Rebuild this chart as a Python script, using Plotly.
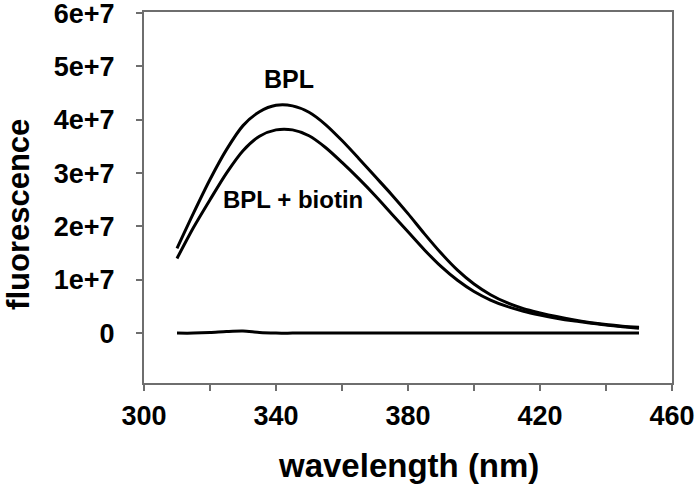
import plotly.graph_objects as go

wavelength = [310, 315, 320, 325, 330, 335, 340, 345, 350, 355, 360, 365, 370, 375, 380,
              385, 390, 395, 400, 405, 410, 415, 420, 425, 430, 435, 440, 445, 450]
bpl = [1.59, 2.25, 2.88, 3.44, 3.89, 4.15, 4.27, 4.26, 4.14, 3.91, 3.61, 3.28, 2.94, 2.60, 2.24,
       1.86, 1.50, 1.18, 0.92, 0.72, 0.57, 0.46, 0.38, 0.31, 0.25, 0.20, 0.16, 0.13, 0.11]
bpl_biotin = [1.40, 1.98, 2.50, 3.00, 3.42, 3.69, 3.81, 3.81, 3.70, 3.48, 3.20, 2.90, 2.58, 2.24, 1.90,
              1.56, 1.25, 0.99, 0.78, 0.62, 0.50, 0.41, 0.34, 0.28, 0.23, 0.19, 0.15, 0.12, 0.09]
baseline = [0.0, 0.0, 0.01, 0.03, 0.04, 0.01, 0.0, 0.0, 0.0, 0.0, 0.0, 0.0, 0.0, 0.0, 0.0,
            0.0, 0.0, 0.0, 0.0, 0.0, 0.0, 0.0, 0.0, 0.0, 0.0, 0.0, 0.0, 0.0, 0.0]
scale = 1e7

x_tickvals = [300, 320, 340, 360, 380, 400, 420, 440, 460]
x_ticktext = ["300", "", "340", "", "380", "", "420", "", "460"]
y_tickvals = [0, 1e7, 2e7, 3e7, 4e7, 5e7, 6e7]
y_ticktext = ["0", "1e+7", "2e+7", "3e+7", "4e+7", "5e+7", "6e+7"]

FONT = "Liberation Sans, Arial, sans-serif"

fig = go.Figure()
for vals in (baseline, bpl_biotin, bpl):
    fig.add_trace(go.Scatter(
        x=wavelength, y=[v * scale for v in vals], mode="lines",
        line=dict(color="black", width=3, shape="spline", smoothing=0.8),
        showlegend=False, hoverinfo="skip"))

fig.add_annotation(x=344, y=4.77e7, text="BPL", showarrow=False,
                   font=dict(family=FONT, size=25, color="black", weight="bold"))
fig.add_annotation(x=345, y=2.50e7, text="BPL + biotin", showarrow=False,
                   font=dict(family=FONT, size=24, color="black", weight="bold"))
fig.add_annotation(xref="paper", yref="paper", x=-0.238, y=0.454, text="fluorescence",
                   textangle=-90, showarrow=False, xanchor="center", yanchor="middle",
                   font=dict(family=FONT, size=31, color="black", weight="bold"))
fig.add_annotation(xref="paper", yref="paper", x=0.5, y=-0.223, text="wavelength (nm)",
                   showarrow=False, xanchor="center", yanchor="middle",
                   font=dict(family=FONT, size=33, color="black", weight="bold"))

axis_common = dict(showgrid=False, zeroline=False, showline=True, linecolor="#6e6e6e",
                   linewidth=2, mirror=True, ticks="outside", ticklen=6, tickwidth=1.5,
                   tickcolor="#6e6e6e", automargin=False, ticklabeloverflow="allow",
                   tickfont=dict(family=FONT, size=27, color="black", weight="bold"))

fig.update_xaxes(range=[300, 460], tickvals=x_tickvals, ticktext=x_ticktext,
                 ticklabelstandoff=2, **axis_common)
fig.update_yaxes(range=[-0.935e7, 6.02e7], tickvals=y_tickvals, ticktext=y_ticktext,
                 ticklabelstandoff=16, **axis_common)

fig.update_layout(width=697, height=491, margin=dict(l=144, r=25, t=12, b=108),
                  plot_bgcolor="white", paper_bgcolor="white")

fig.write_html("out.html", config={"displayModeBar": False},
               post_script="document.body.style.margin='0';")
